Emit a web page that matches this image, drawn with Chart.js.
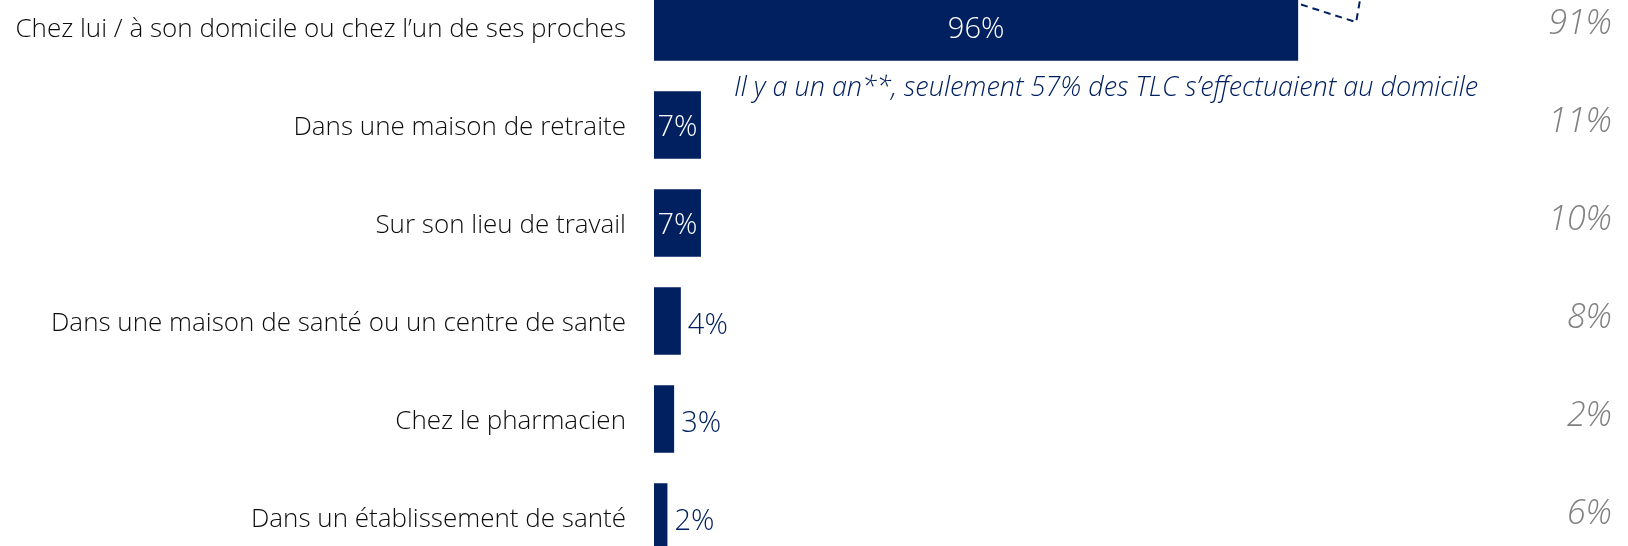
<!DOCTYPE html>
<html lang="fr">
<head>
    <meta charset="UTF-8">
    <title>Lieu de réalisation des TLC</title>
    <script src="https://cdn.jsdelivr.net/npm/chart.js"></script>
    <style>
        body {
            margin: 0;
            background: #ffffff;
            overflow: hidden;
        }
        .wrap {
            position: absolute;
            left: 0;
            top: -22px;
            width: 1628px;
            height: 588px;
        }
    </style>
</head>
<body>
    <div class="wrap">
        <canvas id="chart"></canvas>
    </div>

    <script>
        // Lieux de réalisation
        const categories = [
            'Chez lui / à son domicile ou chez l\u2019un de ses proches',
            'Dans une maison de retraite',
            'Sur son lieu de travail',
            'Dans une maison de santé ou un centre de sante',
            'Chez le pharmacien',
            'Dans un établissement de santé'
        ];
        // cette année (barres)
        const currentValues = [96, 7, 7, 4, 3, 2];
        // l'an dernier (colonne grise à droite)
        const lastYearValues = [91, 11, 10, 8, 2, 6];
        const noteText = 'Il y a un an**, seulement 57% des TLC s\u2019effectuaient au domicile';

        const NAVY = '#002060';
        const FONT = '"Open Sans", Lato, sans-serif';

        const overlay = {
            id: 'overlay',
            beforeDatasetsDraw(chart) {
                // dashed connector, partly hidden behind the first bar
                const ctx = chart.ctx;
                const bar = chart.getDatasetMeta(0).data[0];
                const top = bar.y - bar.height / 2;
                ctx.save();
                ctx.strokeStyle = NAVY;
                ctx.lineWidth = 2;
                ctx.setLineDash([7, 5]);
                ctx.beginPath();
                ctx.moveTo(bar.x - 20, top + 4);
                ctx.lineTo(bar.x + 58, top + 29);
                ctx.lineTo(bar.x + 63, top);
                ctx.stroke();
                ctx.restore();
            },
            afterDatasetsDraw(chart) {
                const ctx = chart.ctx;
                const meta = chart.getDatasetMeta(0);
                const yScale = chart.scales.y;
                ctx.save();
                ctx.textBaseline = 'middle';

                // value labels
                ctx.font = '300 29px ' + FONT;
                meta.data.forEach((bar, i) => {
                    const txt = currentValues[i] + '%';
                    const w = ctx.measureText(txt).width;
                    const barW = bar.x - bar.base;
                    if (barW > w - 4) {
                        ctx.fillStyle = '#ffffff';
                        ctx.textAlign = 'center';
                        ctx.fillText(txt, (bar.x + bar.base) / 2, bar.y + 3);
                    } else {
                        ctx.fillStyle = NAVY;
                        ctx.textAlign = 'left';
                        ctx.fillText(txt, bar.x + 7, bar.y + 5);
                    }
                });

                // last year's column
                ctx.font = 'italic 300 34px ' + FONT;
                ctx.fillStyle = '#808080';
                ctx.textAlign = 'right';
                lastYearValues.forEach((v, i) => {
                    ctx.fillText(v + '%', 1612, yScale.getPixelForValue(i) - 3);
                });

                // note under the first bar
                const y0 = yScale.getPixelForValue(0);
                const y1 = yScale.getPixelForValue(1);
                ctx.font = 'italic 300 27px ' + FONT;
                ctx.fillStyle = NAVY;
                ctx.textAlign = 'left';
                ctx.fillText(noteText, 734, (y0 + y1) / 2 + 12);
                ctx.restore();
            }
        };

        new Chart(document.getElementById('chart'), {
            type: 'bar',
            data: {
                labels: categories,
                datasets: [{
                    data: currentValues,
                    backgroundColor: NAVY,
                    barPercentage: 0.69,
                    categoryPercentage: 1
                }]
            },
            options: {
                indexAxis: 'y',
                responsive: true,
                maintainAspectRatio: false,
                animation: false,
                layout: {
                    padding: { left: 0, right: 303, top: 0, bottom: 0 }
                },
                plugins: {
                    legend: { display: false },
                    tooltip: { enabled: false }
                },
                scales: {
                    x: {
                        display: false,
                        min: 0,
                        max: 100
                    },
                    y: {
                        grid: { display: false, drawTicks: false },
                        border: { display: false },
                        afterFit(scale) {
                            scale.width = 654;
                            scale.paddingTop = 0;
                            scale.paddingBottom = 0;
                        },
                        ticks: {
                            padding: 28,
                            labelOffset: 3,
                            color: '#0d0d0d',
                            font: { family: FONT, size: 26, weight: '300' }
                        }
                    }
                }
            },
            plugins: [overlay]
        });
    </script>
</body>
</html>
